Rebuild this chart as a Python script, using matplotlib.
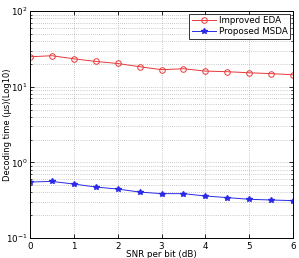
import matplotlib
matplotlib.use("Agg")
import matplotlib.pyplot as plt
from matplotlib.ticker import LogLocator, NullFormatter

snr = [0, 0.5, 1, 1.5, 2, 2.5, 3, 3.5, 4, 4.5, 5, 5.5, 6]
eda = [24.9, 25.7, 23.4, 21.6, 20.3, 18.4, 16.8, 17.3, 16.1, 15.8, 15.3, 14.9, 14.4]
msda = [0.55, 0.56, 0.517, 0.472, 0.444, 0.405, 0.386, 0.386, 0.359, 0.342, 0.325, 0.318, 0.312]
xticks = [0, 1, 2, 3, 4, 5, 6]

fig = plt.figure(figsize=(2.99, 2.58), dpi=100)
ax = fig.add_axes([0.1003, 0.0775, 0.8797, 0.8795])
ax.semilogy(snr, eda, color='#e8393a', marker='o', markersize=4,
            markerfacecolor='none', markeredgewidth=0.7, linewidth=0.7,
            label='Improved EDA')
ax.semilogy(snr, msda, color='#2a2ae8', marker='*', markersize=4,
            linewidth=0.7, label='Proposed MSDA')
ax.set_xlim(0, 6)
ax.set_ylim(0.1, 100)
ax.set_xticks(xticks)
ax.yaxis.set_major_locator(LogLocator(base=10, numticks=10))
ax.yaxis.set_minor_locator(LogLocator(base=10, subs=range(2, 10), numticks=10))
ax.yaxis.set_minor_formatter(NullFormatter())
ax.grid(True, which='major', linestyle=(0, (1, 2)), color='#999999', linewidth=0.5)
ax.grid(True, which='minor', axis='y', linestyle=(0, (1, 2)), color='#999999', linewidth=0.5)
ax.tick_params(axis='x', labelsize=6.3, pad=3)
ax.tick_params(axis='y', labelsize=6.3, pad=1.5)
ax.tick_params(direction='in', length=3, width=0.6, top=True, right=True)
ax.tick_params(which='minor', direction='in', length=1.5, width=0.5, top=True, right=True)
for s in ax.spines.values():
    s.set_linewidth(0.7)
ax.set_xlabel('SNR per bit (dB)', fontsize=6.3)
ax.set_ylabel('Decoding time (μs)(Log10)', fontsize=6)
ax.xaxis.set_label_coords(0.5, -0.055)
ax.yaxis.set_label_coords(-0.07, 0.5)
leg = ax.legend(loc='upper right', fontsize=6.3, frameon=True, fancybox=False,
                edgecolor='black', handlelength=2.8, borderpad=0.3,
                labelspacing=0.2, handletextpad=0.3, borderaxespad=0.3)
leg.get_frame().set_linewidth(0.7)
fig.savefig('out.png', dpi=100)
